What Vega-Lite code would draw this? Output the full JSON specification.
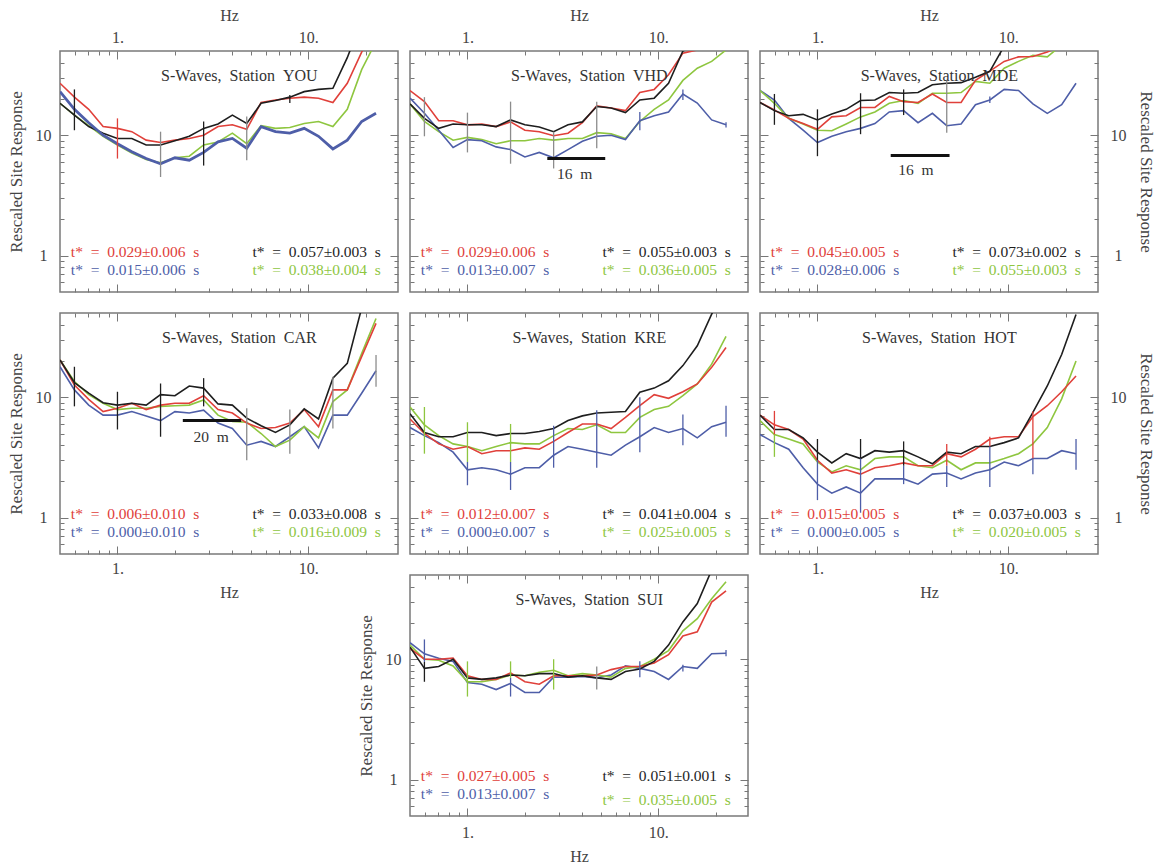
{
"$schema":"https://vega.github.io/schema/vega-lite/v6.json",
"padding":{"left":6,"top":6,"right":2,"bottom":2},
"columns":3,
"spacing":{"row":21,"column":12},
"bounds":"flush",
"config":{
 "view":{"stroke":"#7a7a7a","strokeWidth":1.5},
 "axis":{"domain":false,"grid":false,"tickColor":"#777","tickWidth":1,"tickSize":-4,"labelFont":"Liberation Serif","labelFontSize":16,"labelColor":"#444","titleFont":"Liberation Serif","titleFontSize":16,"titleFontWeight":"normal","titleColor":"#444","labelFlush":false,"labelOverlap":false},
 "axisY":{"titleFontSize":17},
 "text":{"font":"Liberation Serif"},
 "line":{"strokeWidth":1.6}
},
"concat":[
{"width":338,"height":241,"layer":[
 {"data":{"values":[
{"f":0.5,"s":"G","v":18.4},{"f":0.595,"s":"G","v":14.7},{"f":0.707,"s":"G","v":12},{"f":0.841,"s":"G","v":9.8},{"f":1,"s":"G","v":8.3},{"f":1.189,"s":"G","v":7.1},{"f":1.414,"s":"G","v":6.3},{"f":1.682,"s":"G","v":5.9},{"f":2,"s":"G","v":6.5},{"f":2.378,"s":"G","v":6.7},{"f":2.828,"s":"G","v":8.3},{"f":3.364,"s":"G","v":8.8},{"f":4,"s":"G","v":10.4},{"f":4.757,"s":"G","v":8.5},{"f":5.657,"s":"G","v":12},{"f":6.727,"s":"G","v":11.4},{"f":8,"s":"G","v":11.6},{"f":9.514,"s":"G","v":12.5},{"f":11.31,"s":"G","v":13},{"f":13.45,"s":"G","v":11.8},{"f":16,"s":"G","v":16.4},{"f":19.03,"s":"G","v":35},{"f":22.63,"s":"G","v":60},
{"f":0.5,"s":"R","v":27},{"f":0.595,"s":"R","v":20.7},{"f":0.707,"s":"R","v":16.4},{"f":0.841,"s":"R","v":11.8},{"f":1,"s":"R","v":11.4},{"f":1.189,"s":"R","v":10.7},{"f":1.414,"s":"R","v":9.1},{"f":1.682,"s":"R","v":8.7},{"f":2,"s":"R","v":9.1},{"f":2.378,"s":"R","v":9.4},{"f":2.828,"s":"R","v":10},{"f":3.364,"s":"R","v":11.8},{"f":4,"s":"R","v":12.2},{"f":4.757,"s":"R","v":11.2},{"f":5.657,"s":"R","v":18.7},{"f":6.727,"s":"R","v":19.6},{"f":8,"s":"R","v":20.3},{"f":9.514,"s":"R","v":20.7},{"f":11.31,"s":"R","v":20.3},{"f":13.45,"s":"R","v":18.7},{"f":16,"s":"R","v":27},{"f":19.03,"s":"R","v":49},{"f":22.63,"s":"R","v":80},
{"f":0.5,"s":"K","v":18.4},{"f":0.595,"s":"K","v":14.7},{"f":0.707,"s":"K","v":11.8},{"f":0.841,"s":"K","v":10.4},{"f":1,"s":"K","v":9.4},{"f":1.189,"s":"K","v":9.4},{"f":1.414,"s":"K","v":8.3},{"f":1.682,"s":"K","v":8.3},{"f":2,"s":"K","v":9.0},{"f":2.378,"s":"K","v":9.8},{"f":2.828,"s":"K","v":11.4},{"f":3.364,"s":"K","v":12.4},{"f":4,"s":"K","v":14.7},{"f":4.757,"s":"K","v":12.5},{"f":5.657,"s":"K","v":18.4},{"f":6.727,"s":"K","v":19.4},{"f":8,"s":"K","v":20.7},{"f":9.514,"s":"K","v":23},{"f":11.31,"s":"K","v":24},{"f":13.45,"s":"K","v":24.5},{"f":16,"s":"K","v":44},{"f":19.03,"s":"K","v":90}
 ]},
 "mark":{"type":"line","clip":true},
 "encoding":{
  "x":{"field":"f","type":"quantitative","scale":{"type":"log","domain":[0.5,29.5],"nice":false},"axis":{"orient":"bottom","values":[0.6,0.7,0.8,0.9,1,2,3,4,5,6,7,8,9,10,20],"tickSize":{"condition":{"test":"datum.value==1||datum.value==10","value":-8},"value":-4},"labels":false,"title":null}},
  "y":{"field":"v","type":"quantitative","scale":{"type":"log","domain":[0.5,50],"nice":false},"axis":{"orient":"left","values":[0.6,0.7,0.8,0.9,1,2,3,4,5,6,7,8,9,10,20,30,40],"tickSize":{"condition":{"test":"datum.value==1||datum.value==10","value":-8},"value":-4},"labelExpr":"datum.value==1?'1':datum.value==10?'10':''","labelAlign":"center","labelBaseline":"middle","labelPadding":25,"title":"Rescaled\u00a0Site\u00a0Response","titlePadding":10}},
  "color":{"field":"s","type":"nominal","scale":{"domain":["R","B","K","G","N"],"range":["#e0403a","#4e5ea8","#1e1e1e","#8ec63f","#8c8c8c"]},"legend":null}
 }},
 {"data":{"values":[
{"f":0.5,"s":"B","v":23},{"f":0.595,"s":"B","v":16.4},{"f":0.707,"s":"B","v":12.7},{"f":0.841,"s":"B","v":10},{"f":1,"s":"B","v":8.5},{"f":1.189,"s":"B","v":7.3},{"f":1.414,"s":"B","v":6.4},{"f":1.682,"s":"B","v":5.8},{"f":2,"s":"B","v":6.5},{"f":2.378,"s":"B","v":6.2},{"f":2.828,"s":"B","v":7.2},{"f":3.364,"s":"B","v":8.8},{"f":4,"s":"B","v":9.4},{"f":4.757,"s":"B","v":7.8},{"f":5.657,"s":"B","v":11.8},{"f":6.727,"s":"B","v":10.7},{"f":8,"s":"B","v":10.4},{"f":9.514,"s":"B","v":11.4},{"f":11.31,"s":"B","v":9.8},{"f":13.45,"s":"B","v":7.7},{"f":16,"s":"B","v":9.1},{"f":19.03,"s":"B","v":13},{"f":22.63,"s":"B","v":15.2}
 ]},
 "mark":{"type":"line","clip":true,"strokeWidth":2.8},
 "encoding":{
  "x":{"field":"f","type":"quantitative","axis":null},
  "y":{"field":"v","type":"quantitative","axis":null},
  "color":{"field":"s","type":"nominal","legend":null}
 }},
 {"data":{"values":[{"f":0.595,"lo":11,"hi":24,"s":"K"},{"f":1,"lo":6.4,"hi":13.8,"s":"R"},{"f":1.682,"lo":4.5,"hi":10.7,"s":"N"},{"f":2.828,"lo":5.6,"hi":13,"s":"K"},{"f":4.757,"lo":6.2,"hi":14.3,"s":"N"},{"f":8,"lo":18.5,"hi":21.6,"s":"K"}]},
 "mark":{"type":"rule","clip":true,"strokeWidth":1.3},
 "encoding":{
  "x":{"field":"f","type":"quantitative","axis":{"orient":"top","values":[0.6,0.7,0.8,0.9,1,2,3,4,5,6,7,8,9,10,20],"tickSize":{"condition":{"test":"datum.value==1||datum.value==10","value":-8},"value":-4},"labelExpr":"datum.value==1?'1.':datum.value==10?'10.':''","labelBaseline":"middle","labelPadding":22,"title":"Hz","titlePadding":2}},
  "y":{"field":"lo","type":"quantitative","axis":{"orient":"right","values":[0.6,0.7,0.8,0.9,1,2,3,4,5,6,7,8,9,10,20,30,40],"tickSize":{"condition":{"test":"datum.value==1||datum.value==10","value":-8},"value":-4},"labels":false,"title":null}},
  "y2":{"field":"hi"},
  "color":{"field":"s","type":"nominal","legend":null}
 }},
 {"data":{"values":[{"t":"S-Waves,\u00a0\u00a0Station\u00a0\u00a0YOU"}]},"mark":{"type":"text","fontSize":16,"color":"#333"},"encoding":{"x":{"datum":4.35,"type":"quantitative","axis":null},"y":{"datum":31,"type":"quantitative","axis":null},"text":{"field":"t"}}},
 {"data":{"values":[{"t":"t*\u00a0\u00a0=\u00a0\u00a00.029±0.006\u00a0\u00a0s"}]},"mark":{"type":"text","fontSize":15.5,"align":"left","color":"#e0403a"},"encoding":{"x":{"datum":0.57,"type":"quantitative","axis":null},"y":{"datum":1.07,"type":"quantitative","axis":null},"text":{"field":"t"}}},
 {"data":{"values":[{"t":"t*\u00a0\u00a0=\u00a0\u00a00.015±0.006\u00a0\u00a0s"}]},"mark":{"type":"text","fontSize":15.5,"align":"left","color":"#4e5ea8"},"encoding":{"x":{"datum":0.57,"type":"quantitative","axis":null},"y":{"datum":0.765,"type":"quantitative","axis":null},"text":{"field":"t"}}},
 {"data":{"values":[{"t":"t*\u00a0\u00a0=\u00a0\u00a00.057±0.003\u00a0\u00a0s"}]},"mark":{"type":"text","fontSize":15.5,"align":"right","color":"#1e1e1e"},"encoding":{"x":{"datum":24,"type":"quantitative","axis":null},"y":{"datum":1.07,"type":"quantitative","axis":null},"text":{"field":"t"}}},
 {"data":{"values":[{"t":"t*\u00a0\u00a0=\u00a0\u00a00.038±0.004\u00a0\u00a0s"}]},"mark":{"type":"text","fontSize":15.5,"align":"right","color":"#8ec63f"},"encoding":{"x":{"datum":24,"type":"quantitative","axis":null},"y":{"datum":0.765,"type":"quantitative","axis":null},"text":{"field":"t"}}}
]},
{"width":338,"height":241,"layer":[
 {"data":{"values":[
{"f":0.5,"s":"G","v":18.2},{"f":0.595,"s":"G","v":13},{"f":0.707,"s":"G","v":10.7},{"f":0.841,"s":"G","v":9.1},{"f":1,"s":"G","v":9.6},{"f":1.189,"s":"G","v":9.2},{"f":1.414,"s":"G","v":8.5},{"f":1.682,"s":"G","v":9.0},{"f":2,"s":"G","v":9.0},{"f":2.378,"s":"G","v":9.4},{"f":2.828,"s":"G","v":9.1},{"f":3.364,"s":"G","v":9.4},{"f":4,"s":"G","v":9.4},{"f":4.757,"s":"G","v":10.5},{"f":5.657,"s":"G","v":10.3},{"f":6.727,"s":"G","v":9.4},{"f":8,"s":"G","v":13},{"f":9.514,"s":"G","v":16.4},{"f":11.31,"s":"G","v":19.6},{"f":13.45,"s":"G","v":28.5},{"f":16,"s":"G","v":36},{"f":19.03,"s":"G","v":41},{"f":22.63,"s":"G","v":51},
{"f":0.5,"s":"B","v":20.3},{"f":0.595,"s":"B","v":15.2},{"f":0.707,"s":"B","v":11},{"f":0.841,"s":"B","v":7.9},{"f":1,"s":"B","v":9.2},{"f":1.189,"s":"B","v":9.0},{"f":1.414,"s":"B","v":8.0},{"f":1.682,"s":"B","v":7.6},{"f":2,"s":"B","v":6.6},{"f":2.378,"s":"B","v":7.2},{"f":2.828,"s":"B","v":6.5},{"f":3.364,"s":"B","v":7.6},{"f":4,"s":"B","v":8.9},{"f":4.757,"s":"B","v":9.8},{"f":5.657,"s":"B","v":10},{"f":6.727,"s":"B","v":9.2},{"f":8,"s":"B","v":13.2},{"f":9.514,"s":"B","v":14.5},{"f":11.31,"s":"B","v":15.6},{"f":13.45,"s":"B","v":22},{"f":16,"s":"B","v":18.5},{"f":19.03,"s":"B","v":13.4},{"f":22.63,"s":"B","v":12.2},
{"f":0.5,"s":"R","v":23.5},{"f":0.595,"s":"R","v":19},{"f":0.707,"s":"R","v":13.2},{"f":0.841,"s":"R","v":13.2},{"f":1,"s":"R","v":12.2},{"f":1.189,"s":"R","v":12.4},{"f":1.414,"s":"R","v":11.8},{"f":1.682,"s":"R","v":12.9},{"f":2,"s":"R","v":11},{"f":2.378,"s":"R","v":10.7},{"f":2.828,"s":"R","v":9.9},{"f":3.364,"s":"R","v":10.4},{"f":4,"s":"R","v":12.7},{"f":4.757,"s":"R","v":17.5},{"f":5.657,"s":"R","v":16.8},{"f":6.727,"s":"R","v":16},{"f":8,"s":"R","v":22.6},{"f":9.514,"s":"R","v":24},{"f":11.31,"s":"R","v":31.8},{"f":13.45,"s":"R","v":48},{"f":16,"s":"R","v":51},{"f":19.03,"s":"R","v":56},
{"f":0.5,"s":"K","v":18.2},{"f":0.595,"s":"K","v":13.8},{"f":0.707,"s":"K","v":11.4},{"f":0.841,"s":"K","v":12.4},{"f":1,"s":"K","v":12.2},{"f":1.189,"s":"K","v":12.2},{"f":1.414,"s":"K","v":11.8},{"f":1.682,"s":"K","v":13.4},{"f":2,"s":"K","v":12.2},{"f":2.378,"s":"K","v":11.7},{"f":2.828,"s":"K","v":10.7},{"f":3.364,"s":"K","v":12.2},{"f":4,"s":"K","v":12.9},{"f":4.757,"s":"K","v":17.3},{"f":5.657,"s":"K","v":16.8},{"f":6.727,"s":"K","v":15.4},{"f":8,"s":"K","v":19.6},{"f":9.514,"s":"K","v":20.3},{"f":11.31,"s":"K","v":27},{"f":13.45,"s":"K","v":50},{"f":16,"s":"K","v":56}
 ]},
 "mark":{"type":"line","clip":true},
 "encoding":{
  "x":{"field":"f","type":"quantitative","scale":{"type":"log","domain":[0.5,29.5],"nice":false},"axis":{"orient":"bottom","values":[0.6,0.7,0.8,0.9,1,2,3,4,5,6,7,8,9,10,20],"tickSize":{"condition":{"test":"datum.value==1||datum.value==10","value":-8},"value":-4},"labels":false,"title":null}},
  "y":{"field":"v","type":"quantitative","scale":{"type":"log","domain":[0.5,50],"nice":false},"axis":{"orient":"left","values":[0.6,0.7,0.8,0.9,1,2,3,4,5,6,7,8,9,10,20,30,40],"tickSize":{"condition":{"test":"datum.value==1||datum.value==10","value":-8},"value":-4},"labels":false,"title":null}},
  "color":{"field":"s","type":"nominal","scale":{"domain":["R","B","K","G","N"],"range":["#e0403a","#4e5ea8","#1e1e1e","#8ec63f","#8c8c8c"]},"legend":null}
 }},
 {"data":{"values":[{"f":0.595,"lo":9.8,"hi":20.7,"s":"N"},{"f":1,"lo":7.2,"hi":15.4,"s":"N"},{"f":1.682,"lo":5.8,"hi":19,"s":"N"},{"f":2.828,"lo":5.3,"hi":10.7,"s":"N"},{"f":4.757,"lo":7.8,"hi":19,"s":"N"},{"f":8,"lo":11,"hi":15.6,"s":"B"},{"f":13.45,"lo":19.6,"hi":24,"s":"B"},{"f":22.63,"lo":11.6,"hi":12.8,"s":"B"}]},
 "mark":{"type":"rule","clip":true,"strokeWidth":1.3},
 "encoding":{
  "x":{"field":"f","type":"quantitative","axis":{"orient":"top","values":[0.6,0.7,0.8,0.9,1,2,3,4,5,6,7,8,9,10,20],"tickSize":{"condition":{"test":"datum.value==1||datum.value==10","value":-8},"value":-4},"labelExpr":"datum.value==1?'1.':datum.value==10?'10.':''","labelBaseline":"middle","labelPadding":22,"title":"Hz","titlePadding":2}},
  "y":{"field":"lo","type":"quantitative","axis":{"orient":"right","values":[0.6,0.7,0.8,0.9,1,2,3,4,5,6,7,8,9,10,20,30,40],"tickSize":{"condition":{"test":"datum.value==1||datum.value==10","value":-8},"value":-4},"labels":false,"title":null}},
  "y2":{"field":"hi"},
  "color":{"field":"s","type":"nominal","legend":null}
 }},
 {"data":{"values":[{"t":"S-Waves,\u00a0\u00a0Station\u00a0\u00a0VHD"}]},"mark":{"type":"text","fontSize":16,"color":"#333"},"encoding":{"x":{"datum":4.35,"type":"quantitative","axis":null},"y":{"datum":31,"type":"quantitative","axis":null},"text":{"field":"t"}}},
 {"data":{"values":[{"t":"16 m"}]},"mark":{"type":"rule","strokeWidth":3,"color":"#111"},"encoding":{"x":{"datum":2.62,"type":"quantitative","axis":null},"x2":{"datum":5.27},"y":{"datum":6.4,"type":"quantitative","axis":null}}},
 {"data":{"values":[{"t":"16\u00a0\u00a0m"}]},"mark":{"type":"text","fontSize":15.5,"color":"#333"},"encoding":{"x":{"datum":3.64,"type":"quantitative","axis":null},"y":{"datum":4.75,"type":"quantitative","axis":null},"text":{"field":"t"}}},
 {"data":{"values":[{"t":"t*\u00a0\u00a0=\u00a0\u00a00.029±0.006\u00a0\u00a0s"}]},"mark":{"type":"text","fontSize":15.5,"align":"left","color":"#e0403a"},"encoding":{"x":{"datum":0.57,"type":"quantitative","axis":null},"y":{"datum":1.07,"type":"quantitative","axis":null},"text":{"field":"t"}}},
 {"data":{"values":[{"t":"t*\u00a0\u00a0=\u00a0\u00a00.013±0.007\u00a0\u00a0s"}]},"mark":{"type":"text","fontSize":15.5,"align":"left","color":"#4e5ea8"},"encoding":{"x":{"datum":0.57,"type":"quantitative","axis":null},"y":{"datum":0.765,"type":"quantitative","axis":null},"text":{"field":"t"}}},
 {"data":{"values":[{"t":"t*\u00a0\u00a0=\u00a0\u00a00.055±0.003\u00a0\u00a0s"}]},"mark":{"type":"text","fontSize":15.5,"align":"right","color":"#1e1e1e"},"encoding":{"x":{"datum":24,"type":"quantitative","axis":null},"y":{"datum":1.07,"type":"quantitative","axis":null},"text":{"field":"t"}}},
 {"data":{"values":[{"t":"t*\u00a0\u00a0=\u00a0\u00a00.036±0.005\u00a0\u00a0s"}]},"mark":{"type":"text","fontSize":15.5,"align":"right","color":"#8ec63f"},"encoding":{"x":{"datum":24,"type":"quantitative","axis":null},"y":{"datum":0.765,"type":"quantitative","axis":null},"text":{"field":"t"}}}
]},
{"width":338,"height":241,"layer":[
 {"data":{"values":[
{"f":0.5,"s":"B","v":23.5},{"f":0.595,"s":"B","v":19.6},{"f":0.707,"s":"B","v":13.8},{"f":0.841,"s":"B","v":11},{"f":1,"s":"B","v":8.7},{"f":1.189,"s":"B","v":9.8},{"f":1.414,"s":"B","v":10.7},{"f":1.682,"s":"B","v":11.4},{"f":2,"s":"B","v":12.5},{"f":2.378,"s":"B","v":15.6},{"f":2.828,"s":"B","v":16},{"f":3.364,"s":"B","v":12.7},{"f":4,"s":"B","v":15.2},{"f":4.757,"s":"B","v":12},{"f":5.657,"s":"B","v":12.4},{"f":6.727,"s":"B","v":17.9},{"f":8,"s":"B","v":19.6},{"f":9.514,"s":"B","v":24},{"f":11.31,"s":"B","v":23.5},{"f":13.45,"s":"B","v":18.2},{"f":16,"s":"B","v":15.2},{"f":19.03,"s":"B","v":17.9},{"f":22.63,"s":"B","v":27},
{"f":0.5,"s":"G","v":23.5},{"f":0.595,"s":"G","v":18.4},{"f":0.707,"s":"G","v":13.8},{"f":0.841,"s":"G","v":12.4},{"f":1,"s":"G","v":11},{"f":1.189,"s":"G","v":10.9},{"f":1.414,"s":"G","v":12.4},{"f":1.682,"s":"G","v":14.2},{"f":2,"s":"G","v":15.6},{"f":2.378,"s":"G","v":18.4},{"f":2.828,"s":"G","v":19.4},{"f":3.364,"s":"G","v":18.4},{"f":4,"s":"G","v":22.3},{"f":4.757,"s":"G","v":22.3},{"f":5.657,"s":"G","v":22.6},{"f":6.727,"s":"G","v":28},{"f":8,"s":"G","v":27},{"f":9.514,"s":"G","v":36},{"f":11.31,"s":"G","v":41},{"f":13.45,"s":"G","v":46},{"f":16,"s":"G","v":44.7},{"f":19.03,"s":"G","v":56},
{"f":0.5,"s":"R","v":18.7},{"f":0.595,"s":"R","v":16.2},{"f":0.707,"s":"R","v":13.8},{"f":0.841,"s":"R","v":12.5},{"f":1,"s":"R","v":11.2},{"f":1.189,"s":"R","v":14.2},{"f":1.414,"s":"R","v":14.5},{"f":1.682,"s":"R","v":17},{"f":2,"s":"R","v":17},{"f":2.378,"s":"R","v":21},{"f":2.828,"s":"R","v":19},{"f":3.364,"s":"R","v":18.7},{"f":4,"s":"R","v":22},{"f":4.757,"s":"R","v":18.7},{"f":5.657,"s":"R","v":18.7},{"f":6.727,"s":"R","v":28.5},{"f":8,"s":"R","v":34},{"f":9.514,"s":"R","v":41},{"f":11.31,"s":"R","v":44.7},{"f":13.45,"s":"R","v":45},{"f":16,"s":"R","v":49},{"f":19.03,"s":"R","v":56},
{"f":0.5,"s":"K","v":18.7},{"f":0.595,"s":"K","v":16},{"f":0.707,"s":"K","v":14.5},{"f":0.841,"s":"K","v":14.9},{"f":1,"s":"K","v":13.4},{"f":1.189,"s":"K","v":15},{"f":1.414,"s":"K","v":16.4},{"f":1.682,"s":"K","v":19.4},{"f":2,"s":"K","v":19.6},{"f":2.378,"s":"K","v":22.6},{"f":2.828,"s":"K","v":22.3},{"f":3.364,"s":"K","v":22.6},{"f":4,"s":"K","v":26.2},{"f":4.757,"s":"K","v":27},{"f":5.657,"s":"K","v":27.3},{"f":6.727,"s":"K","v":30.3},{"f":8,"s":"K","v":33.9},{"f":9.514,"s":"K","v":55}
 ]},
 "mark":{"type":"line","clip":true},
 "encoding":{
  "x":{"field":"f","type":"quantitative","scale":{"type":"log","domain":[0.5,29.5],"nice":false},"axis":{"orient":"bottom","values":[0.6,0.7,0.8,0.9,1,2,3,4,5,6,7,8,9,10,20],"tickSize":{"condition":{"test":"datum.value==1||datum.value==10","value":-8},"value":-4},"labels":false,"title":null}},
  "y":{"field":"v","type":"quantitative","scale":{"type":"log","domain":[0.5,50],"nice":false},"axis":{"orient":"left","values":[0.6,0.7,0.8,0.9,1,2,3,4,5,6,7,8,9,10,20,30,40],"tickSize":{"condition":{"test":"datum.value==1||datum.value==10","value":-8},"value":-4},"labels":false,"title":null}},
  "color":{"field":"s","type":"nominal","scale":{"domain":["R","B","K","G","N"],"range":["#e0403a","#4e5ea8","#1e1e1e","#8ec63f","#8c8c8c"]},"legend":null}
 }},
 {"data":{"values":[{"f":0.595,"lo":12.2,"hi":22,"s":"K"},{"f":1,"lo":6.7,"hi":16.4,"s":"K"},{"f":1.682,"lo":10.2,"hi":22.3,"s":"K"},{"f":2.828,"lo":14.7,"hi":24,"s":"K"},{"f":4.757,"lo":10.5,"hi":28.5,"s":"N"},{"f":8,"lo":18.5,"hi":21,"s":"B"}]},
 "mark":{"type":"rule","clip":true,"strokeWidth":1.3},
 "encoding":{
  "x":{"field":"f","type":"quantitative","axis":{"orient":"top","values":[0.6,0.7,0.8,0.9,1,2,3,4,5,6,7,8,9,10,20],"tickSize":{"condition":{"test":"datum.value==1||datum.value==10","value":-8},"value":-4},"labelExpr":"datum.value==1?'1.':datum.value==10?'10.':''","labelBaseline":"middle","labelPadding":22,"title":"Hz","titlePadding":2}},
  "y":{"field":"lo","type":"quantitative","axis":{"orient":"right","values":[0.6,0.7,0.8,0.9,1,2,3,4,5,6,7,8,9,10,20,30,40],"tickSize":{"condition":{"test":"datum.value==1||datum.value==10","value":-8},"value":-4},"labelExpr":"datum.value==1?'1':datum.value==10?'10':''","labelAlign":"center","labelBaseline":"middle","labelPadding":28,"title":"Rescaled\u00a0Site\u00a0Response","titlePadding":10}},
  "y2":{"field":"hi"},
  "color":{"field":"s","type":"nominal","legend":null}
 }},
 {"data":{"values":[{"t":"S-Waves,\u00a0\u00a0Station\u00a0\u00a0MDE"}]},"mark":{"type":"text","fontSize":16,"color":"#333"},"encoding":{"x":{"datum":4.35,"type":"quantitative","axis":null},"y":{"datum":31,"type":"quantitative","axis":null},"text":{"field":"t"}}},
 {"data":{"values":[{"t":"16 m"}]},"mark":{"type":"rule","strokeWidth":3,"color":"#111"},"encoding":{"x":{"datum":2.42,"type":"quantitative","axis":null},"x2":{"datum":4.92},"y":{"datum":6.8,"type":"quantitative","axis":null}}},
 {"data":{"values":[{"t":"16\u00a0\u00a0m"}]},"mark":{"type":"text","fontSize":15.5,"color":"#333"},"encoding":{"x":{"datum":3.28,"type":"quantitative","axis":null},"y":{"datum":5.1,"type":"quantitative","axis":null},"text":{"field":"t"}}},
 {"data":{"values":[{"t":"t*\u00a0\u00a0=\u00a0\u00a00.045±0.005\u00a0\u00a0s"}]},"mark":{"type":"text","fontSize":15.5,"align":"left","color":"#e0403a"},"encoding":{"x":{"datum":0.57,"type":"quantitative","axis":null},"y":{"datum":1.07,"type":"quantitative","axis":null},"text":{"field":"t"}}},
 {"data":{"values":[{"t":"t*\u00a0\u00a0=\u00a0\u00a00.028±0.006\u00a0\u00a0s"}]},"mark":{"type":"text","fontSize":15.5,"align":"left","color":"#4e5ea8"},"encoding":{"x":{"datum":0.57,"type":"quantitative","axis":null},"y":{"datum":0.765,"type":"quantitative","axis":null},"text":{"field":"t"}}},
 {"data":{"values":[{"t":"t*\u00a0\u00a0=\u00a0\u00a00.073±0.002\u00a0\u00a0s"}]},"mark":{"type":"text","fontSize":15.5,"align":"right","color":"#1e1e1e"},"encoding":{"x":{"datum":24,"type":"quantitative","axis":null},"y":{"datum":1.07,"type":"quantitative","axis":null},"text":{"field":"t"}}},
 {"data":{"values":[{"t":"t*\u00a0\u00a0=\u00a0\u00a00.055±0.003\u00a0\u00a0s"}]},"mark":{"type":"text","fontSize":15.5,"align":"right","color":"#8ec63f"},"encoding":{"x":{"datum":24,"type":"quantitative","axis":null},"y":{"datum":0.765,"type":"quantitative","axis":null},"text":{"field":"t"}}}
]},
{"width":338,"height":241,"layer":[
 {"data":{"values":[
{"f":0.5,"s":"B","v":17.9},{"f":0.595,"s":"B","v":11.5},{"f":0.707,"s":"B","v":8.6},{"f":0.841,"s":"B","v":7.1},{"f":1,"s":"B","v":7.1},{"f":1.189,"s":"B","v":7.6},{"f":1.414,"s":"B","v":7.0},{"f":1.682,"s":"B","v":6.4},{"f":2,"s":"B","v":7.6},{"f":2.378,"s":"B","v":7.4},{"f":2.828,"s":"B","v":7.8},{"f":3.364,"s":"B","v":6.1},{"f":4,"s":"B","v":5.5},{"f":4.757,"s":"B","v":4.0},{"f":5.657,"s":"B","v":4.3},{"f":6.727,"s":"B","v":3.9},{"f":8,"s":"B","v":4.7},{"f":9.514,"s":"B","v":5.7},{"f":11.31,"s":"B","v":3.8},{"f":13.45,"s":"B","v":7.1},{"f":16,"s":"B","v":7.1},{"f":19.03,"s":"B","v":10.8},{"f":22.63,"s":"B","v":16.6},
{"f":0.5,"s":"G","v":20.4},{"f":0.595,"s":"G","v":13.5},{"f":0.707,"s":"G","v":10.5},{"f":0.841,"s":"G","v":8.9},{"f":1,"s":"G","v":7.9},{"f":1.189,"s":"G","v":8.1},{"f":1.414,"s":"G","v":8.1},{"f":1.682,"s":"G","v":8.4},{"f":2,"s":"G","v":8.5},{"f":2.378,"s":"G","v":8.6},{"f":2.828,"s":"G","v":9.5},{"f":3.364,"s":"G","v":7.1},{"f":4,"s":"G","v":6.3},{"f":4.757,"s":"G","v":6.2},{"f":5.657,"s":"G","v":5.0},{"f":6.727,"s":"G","v":3.9},{"f":8,"s":"G","v":4.4},{"f":9.514,"s":"G","v":5.7},{"f":11.31,"s":"G","v":4.6},{"f":13.45,"s":"G","v":9.2},{"f":16,"s":"G","v":11.5},{"f":19.03,"s":"G","v":23},{"f":22.63,"s":"G","v":45},
{"f":0.5,"s":"R","v":20.4},{"f":0.595,"s":"R","v":12.6},{"f":0.707,"s":"R","v":9.6},{"f":0.841,"s":"R","v":7.6},{"f":1,"s":"R","v":8.1},{"f":1.189,"s":"R","v":8.9},{"f":1.414,"s":"R","v":7.9},{"f":1.682,"s":"R","v":8.6},{"f":2,"s":"R","v":8.9},{"f":2.378,"s":"R","v":8.9},{"f":2.828,"s":"R","v":10.3},{"f":3.364,"s":"R","v":7.9},{"f":4,"s":"R","v":7.4},{"f":4.757,"s":"R","v":6.1},{"f":5.657,"s":"R","v":5.5},{"f":6.727,"s":"R","v":5.6},{"f":8,"s":"R","v":6.1},{"f":9.514,"s":"R","v":7.9},{"f":11.31,"s":"R","v":5.7},{"f":13.45,"s":"R","v":11.5},{"f":16,"s":"R","v":11.5},{"f":19.03,"s":"R","v":21.7},{"f":22.63,"s":"R","v":41},
{"f":0.5,"s":"K","v":20.4},{"f":0.595,"s":"K","v":13.2},{"f":0.707,"s":"K","v":10.8},{"f":0.841,"s":"K","v":9.0},{"f":1,"s":"K","v":8.6},{"f":1.189,"s":"K","v":8.9},{"f":1.414,"s":"K","v":8.6},{"f":1.682,"s":"K","v":10.5},{"f":2,"s":"K","v":10.3},{"f":2.378,"s":"K","v":12.4},{"f":2.828,"s":"K","v":11.9},{"f":3.364,"s":"K","v":8.8},{"f":4,"s":"K","v":8.6},{"f":4.757,"s":"K","v":6.7},{"f":5.657,"s":"K","v":5.8},{"f":6.727,"s":"K","v":5.1},{"f":8,"s":"K","v":5.9},{"f":9.514,"s":"K","v":8.0},{"f":11.31,"s":"K","v":6.6},{"f":13.45,"s":"K","v":14.4},{"f":16,"s":"K","v":19.1},{"f":19.03,"s":"K","v":55}
 ]},
 "mark":{"type":"line","clip":true},
 "encoding":{
  "x":{"field":"f","type":"quantitative","scale":{"type":"log","domain":[0.5,29.5],"nice":false},"axis":{"orient":"bottom","values":[0.6,0.7,0.8,0.9,1,2,3,4,5,6,7,8,9,10,20],"tickSize":{"condition":{"test":"datum.value==1||datum.value==10","value":-8},"value":-4},"labelExpr":"datum.value==1?'1.':datum.value==10?'10.':''","labelBaseline":"middle","labelPadding":22,"title":"Hz","titlePadding":4}},
  "y":{"field":"v","type":"quantitative","scale":{"type":"log","domain":[0.5,50],"nice":false},"axis":{"orient":"left","values":[0.6,0.7,0.8,0.9,1,2,3,4,5,6,7,8,9,10,20,30,40],"tickSize":{"condition":{"test":"datum.value==1||datum.value==10","value":-8},"value":-4},"labelExpr":"datum.value==1?'1':datum.value==10?'10':''","labelAlign":"center","labelBaseline":"middle","labelPadding":25,"title":"Rescaled\u00a0Site\u00a0Response","titlePadding":10}},
  "color":{"field":"s","type":"nominal","scale":{"domain":["R","B","K","G","N"],"range":["#e0403a","#4e5ea8","#1e1e1e","#8ec63f","#8c8c8c"]},"legend":null}
 }},
 {"data":{"values":[{"f":0.595,"lo":8.4,"hi":17.9,"s":"K"},{"f":1,"lo":5.4,"hi":11.1,"s":"K"},{"f":1.682,"lo":4.7,"hi":13,"s":"K"},{"f":2.828,"lo":8.4,"hi":14.4,"s":"K"},{"f":4.757,"lo":3.0,"hi":8.1,"s":"N"},{"f":8,"lo":3.4,"hi":7.9,"s":"N"},{"f":13.45,"lo":5.5,"hi":14.8,"s":"N"},{"f":22.63,"lo":12.2,"hi":22.4,"s":"N"}]},
 "mark":{"type":"rule","clip":true,"strokeWidth":1.3},
 "encoding":{
  "x":{"field":"f","type":"quantitative","axis":{"orient":"top","values":[0.6,0.7,0.8,0.9,1,2,3,4,5,6,7,8,9,10,20],"tickSize":{"condition":{"test":"datum.value==1||datum.value==10","value":-8},"value":-4},"labels":false,"title":null}},
  "y":{"field":"lo","type":"quantitative","axis":{"orient":"right","values":[0.6,0.7,0.8,0.9,1,2,3,4,5,6,7,8,9,10,20,30,40],"tickSize":{"condition":{"test":"datum.value==1||datum.value==10","value":-8},"value":-4},"labels":false,"title":null}},
  "y2":{"field":"hi"},
  "color":{"field":"s","type":"nominal","legend":null}
 }},
 {"data":{"values":[{"t":"S-Waves,\u00a0\u00a0Station\u00a0\u00a0CAR"}]},"mark":{"type":"text","fontSize":16,"color":"#333"},"encoding":{"x":{"datum":4.35,"type":"quantitative","axis":null},"y":{"datum":31,"type":"quantitative","axis":null},"text":{"field":"t"}}},
 {"data":{"values":[{"t":"20 m"}]},"mark":{"type":"rule","strokeWidth":3,"color":"#111"},"encoding":{"x":{"datum":2.2,"type":"quantitative","axis":null},"x2":{"datum":4.45},"y":{"datum":6.4,"type":"quantitative","axis":null}}},
 {"data":{"values":[{"t":"20\u00a0\u00a0m"}]},"mark":{"type":"text","fontSize":15.5,"color":"#333"},"encoding":{"x":{"datum":3.1,"type":"quantitative","axis":null},"y":{"datum":4.7,"type":"quantitative","axis":null},"text":{"field":"t"}}},
 {"data":{"values":[{"t":"t*\u00a0\u00a0=\u00a0\u00a00.006±0.010\u00a0\u00a0s"}]},"mark":{"type":"text","fontSize":15.5,"align":"left","color":"#e0403a"},"encoding":{"x":{"datum":0.57,"type":"quantitative","axis":null},"y":{"datum":1.07,"type":"quantitative","axis":null},"text":{"field":"t"}}},
 {"data":{"values":[{"t":"t*\u00a0\u00a0=\u00a0\u00a00.000±0.010\u00a0\u00a0s"}]},"mark":{"type":"text","fontSize":15.5,"align":"left","color":"#4e5ea8"},"encoding":{"x":{"datum":0.57,"type":"quantitative","axis":null},"y":{"datum":0.765,"type":"quantitative","axis":null},"text":{"field":"t"}}},
 {"data":{"values":[{"t":"t*\u00a0\u00a0=\u00a0\u00a00.033±0.008\u00a0\u00a0s"}]},"mark":{"type":"text","fontSize":15.5,"align":"right","color":"#1e1e1e"},"encoding":{"x":{"datum":24,"type":"quantitative","axis":null},"y":{"datum":1.07,"type":"quantitative","axis":null},"text":{"field":"t"}}},
 {"data":{"values":[{"t":"t*\u00a0\u00a0=\u00a0\u00a00.016±0.009\u00a0\u00a0s"}]},"mark":{"type":"text","fontSize":15.5,"align":"right","color":"#8ec63f"},"encoding":{"x":{"datum":24,"type":"quantitative","axis":null},"y":{"datum":0.765,"type":"quantitative","axis":null},"text":{"field":"t"}}}
]},
{"width":338,"height":241,"layer":[
 {"data":{"values":[
{"f":0.5,"s":"B","v":5.6},{"f":0.595,"s":"B","v":4.8},{"f":0.707,"s":"B","v":4.2},{"f":0.841,"s":"B","v":3.5},{"f":1,"s":"B","v":2.5},{"f":1.189,"s":"B","v":2.6},{"f":1.414,"s":"B","v":2.5},{"f":1.682,"s":"B","v":2.3},{"f":2,"s":"B","v":2.6},{"f":2.378,"s":"B","v":2.6},{"f":2.828,"s":"B","v":3.3},{"f":3.364,"s":"B","v":3.9},{"f":4,"s":"B","v":3.7},{"f":4.757,"s":"B","v":3.5},{"f":5.657,"s":"B","v":3.3},{"f":6.727,"s":"B","v":4.0},{"f":8,"s":"B","v":4.7},{"f":9.514,"s":"B","v":5.6},{"f":11.31,"s":"B","v":5.1},{"f":13.45,"s":"B","v":5.5},{"f":16,"s":"B","v":4.6},{"f":19.03,"s":"B","v":5.7},{"f":22.63,"s":"B","v":6.2},
{"f":0.5,"s":"G","v":8.3},{"f":0.595,"s":"G","v":5.9},{"f":0.707,"s":"G","v":4.8},{"f":0.841,"s":"G","v":4.1},{"f":1,"s":"G","v":3.9},{"f":1.189,"s":"G","v":3.6},{"f":1.414,"s":"G","v":3.9},{"f":1.682,"s":"G","v":4.2},{"f":2,"s":"G","v":4.1},{"f":2.378,"s":"G","v":4.1},{"f":2.828,"s":"G","v":4.8},{"f":3.364,"s":"G","v":5.5},{"f":4,"s":"G","v":5.4},{"f":4.757,"s":"G","v":5.9},{"f":5.657,"s":"G","v":5.1},{"f":6.727,"s":"G","v":5.1},{"f":8,"s":"G","v":6.8},{"f":9.514,"s":"G","v":7.9},{"f":11.31,"s":"G","v":8.4},{"f":13.45,"s":"G","v":10.3},{"f":16,"s":"G","v":12.9},{"f":19.03,"s":"G","v":18.8},{"f":22.63,"s":"G","v":32},
{"f":0.5,"s":"R","v":6.6},{"f":0.595,"s":"R","v":5.0},{"f":0.707,"s":"R","v":4.1},{"f":0.841,"s":"R","v":3.7},{"f":1,"s":"R","v":3.9},{"f":1.189,"s":"R","v":3.4},{"f":1.414,"s":"R","v":3.6},{"f":1.682,"s":"R","v":3.6},{"f":2,"s":"R","v":3.8},{"f":2.378,"s":"R","v":3.7},{"f":2.828,"s":"R","v":4.3},{"f":3.364,"s":"R","v":5.1},{"f":4,"s":"R","v":6.0},{"f":4.757,"s":"R","v":6.0},{"f":5.657,"s":"R","v":5.5},{"f":6.727,"s":"R","v":6.8},{"f":8,"s":"R","v":8.5},{"f":9.514,"s":"R","v":10.5},{"f":11.31,"s":"R","v":9.8},{"f":13.45,"s":"R","v":11.1},{"f":16,"s":"R","v":12.9},{"f":19.03,"s":"R","v":17.7},{"f":22.63,"s":"R","v":25.9},
{"f":0.5,"s":"K","v":7.3},{"f":0.595,"s":"K","v":5.1},{"f":0.707,"s":"K","v":4.7},{"f":0.841,"s":"K","v":4.7},{"f":1,"s":"K","v":5.1},{"f":1.189,"s":"K","v":5.1},{"f":1.414,"s":"K","v":4.8},{"f":1.682,"s":"K","v":5.0},{"f":2,"s":"K","v":5.0},{"f":2.378,"s":"K","v":5.2},{"f":2.828,"s":"K","v":5.5},{"f":3.364,"s":"K","v":6.4},{"f":4,"s":"K","v":7.0},{"f":4.757,"s":"K","v":7.4},{"f":5.657,"s":"K","v":7.5},{"f":6.727,"s":"K","v":7.6},{"f":8,"s":"K","v":11},{"f":9.514,"s":"K","v":11.9},{"f":11.31,"s":"K","v":13.7},{"f":13.45,"s":"K","v":18.3},{"f":16,"s":"K","v":26.7},{"f":19.03,"s":"K","v":49},{"f":22.63,"s":"K","v":80}
 ]},
 "mark":{"type":"line","clip":true},
 "encoding":{
  "x":{"field":"f","type":"quantitative","scale":{"type":"log","domain":[0.5,29.5],"nice":false},"axis":{"orient":"bottom","values":[0.6,0.7,0.8,0.9,1,2,3,4,5,6,7,8,9,10,20],"tickSize":{"condition":{"test":"datum.value==1||datum.value==10","value":-8},"value":-4},"labels":false,"title":null}},
  "y":{"field":"v","type":"quantitative","scale":{"type":"log","domain":[0.5,50],"nice":false},"axis":{"orient":"left","values":[0.6,0.7,0.8,0.9,1,2,3,4,5,6,7,8,9,10,20,30,40],"tickSize":{"condition":{"test":"datum.value==1||datum.value==10","value":-8},"value":-4},"labels":false,"title":null}},
  "color":{"field":"s","type":"nominal","scale":{"domain":["R","B","K","G","N"],"range":["#e0403a","#4e5ea8","#1e1e1e","#8ec63f","#8c8c8c"]},"legend":null}
 }},
 {"data":{"values":[{"f":0.595,"lo":3.4,"hi":8.3,"s":"G"},{"f":1,"lo":2.9,"hi":6.2,"s":"G"},{"f":1,"lo":1.86,"hi":2.9,"s":"B"},{"f":1.682,"lo":2.9,"hi":6.0,"s":"G"},{"f":1.682,"lo":1.7,"hi":2.9,"s":"B"},{"f":2.828,"lo":2.6,"hi":5.8,"s":"B"},{"f":4.757,"lo":2.6,"hi":7.8,"s":"B"},{"f":8,"lo":3.5,"hi":10,"s":"B"},{"f":13.45,"lo":4.0,"hi":7.2,"s":"B"},{"f":22.63,"lo":4.7,"hi":8.5,"s":"B"}]},
 "mark":{"type":"rule","clip":true,"strokeWidth":1.3},
 "encoding":{
  "x":{"field":"f","type":"quantitative","axis":{"orient":"top","values":[0.6,0.7,0.8,0.9,1,2,3,4,5,6,7,8,9,10,20],"tickSize":{"condition":{"test":"datum.value==1||datum.value==10","value":-8},"value":-4},"labels":false,"title":null}},
  "y":{"field":"lo","type":"quantitative","axis":{"orient":"right","values":[0.6,0.7,0.8,0.9,1,2,3,4,5,6,7,8,9,10,20,30,40],"tickSize":{"condition":{"test":"datum.value==1||datum.value==10","value":-8},"value":-4},"labels":false,"title":null}},
  "y2":{"field":"hi"},
  "color":{"field":"s","type":"nominal","legend":null}
 }},
 {"data":{"values":[{"t":"S-Waves,\u00a0\u00a0Station\u00a0\u00a0KRE"}]},"mark":{"type":"text","fontSize":16,"color":"#333"},"encoding":{"x":{"datum":4.35,"type":"quantitative","axis":null},"y":{"datum":31,"type":"quantitative","axis":null},"text":{"field":"t"}}},
 {"data":{"values":[{"t":"t*\u00a0\u00a0=\u00a0\u00a00.012±0.007\u00a0\u00a0s"}]},"mark":{"type":"text","fontSize":15.5,"align":"left","color":"#e0403a"},"encoding":{"x":{"datum":0.57,"type":"quantitative","axis":null},"y":{"datum":1.07,"type":"quantitative","axis":null},"text":{"field":"t"}}},
 {"data":{"values":[{"t":"t*\u00a0\u00a0=\u00a0\u00a00.000±0.007\u00a0\u00a0s"}]},"mark":{"type":"text","fontSize":15.5,"align":"left","color":"#4e5ea8"},"encoding":{"x":{"datum":0.57,"type":"quantitative","axis":null},"y":{"datum":0.765,"type":"quantitative","axis":null},"text":{"field":"t"}}},
 {"data":{"values":[{"t":"t*\u00a0\u00a0=\u00a0\u00a00.041±0.004\u00a0\u00a0s"}]},"mark":{"type":"text","fontSize":15.5,"align":"right","color":"#1e1e1e"},"encoding":{"x":{"datum":24,"type":"quantitative","axis":null},"y":{"datum":1.07,"type":"quantitative","axis":null},"text":{"field":"t"}}},
 {"data":{"values":[{"t":"t*\u00a0\u00a0=\u00a0\u00a00.025±0.005\u00a0\u00a0s"}]},"mark":{"type":"text","fontSize":15.5,"align":"right","color":"#8ec63f"},"encoding":{"x":{"datum":24,"type":"quantitative","axis":null},"y":{"datum":0.765,"type":"quantitative","axis":null},"text":{"field":"t"}}}
]},
{"width":338,"height":241,"layer":[
 {"data":{"values":[
{"f":0.5,"s":"B","v":4.9},{"f":0.595,"s":"B","v":4.2},{"f":0.707,"s":"B","v":3.7},{"f":0.841,"s":"B","v":2.6},{"f":1,"s":"B","v":1.9},{"f":1.189,"s":"B","v":1.6},{"f":1.414,"s":"B","v":1.8},{"f":1.682,"s":"B","v":1.6},{"f":2,"s":"B","v":2.1},{"f":2.378,"s":"B","v":2.1},{"f":2.828,"s":"B","v":2.1},{"f":3.364,"s":"B","v":1.9},{"f":4,"s":"B","v":2.3},{"f":4.757,"s":"B","v":2.35},{"f":5.657,"s":"B","v":2.1},{"f":6.727,"s":"B","v":2.35},{"f":8,"s":"B","v":2.5},{"f":9.514,"s":"B","v":2.9},{"f":11.31,"s":"B","v":2.7},{"f":13.45,"s":"B","v":3.1},{"f":16,"s":"B","v":3.1},{"f":19.03,"s":"B","v":3.6},{"f":22.63,"s":"B","v":3.4},
{"f":0.5,"s":"G","v":6.4},{"f":0.595,"s":"G","v":4.9},{"f":0.707,"s":"G","v":4.5},{"f":0.841,"s":"G","v":4.1},{"f":1,"s":"G","v":2.9},{"f":1.189,"s":"G","v":2.4},{"f":1.414,"s":"G","v":2.7},{"f":1.682,"s":"G","v":2.5},{"f":2,"s":"G","v":3.1},{"f":2.378,"s":"G","v":3.2},{"f":2.828,"s":"G","v":3.2},{"f":3.364,"s":"G","v":2.7},{"f":4,"s":"G","v":2.6},{"f":4.757,"s":"G","v":3.0},{"f":5.657,"s":"G","v":2.5},{"f":6.727,"s":"G","v":2.85},{"f":8,"s":"G","v":2.85},{"f":9.514,"s":"G","v":3.1},{"f":11.31,"s":"G","v":3.4},{"f":13.45,"s":"G","v":4.1},{"f":16,"s":"G","v":5.6},{"f":19.03,"s":"G","v":9.7},{"f":22.63,"s":"G","v":20},
{"f":0.5,"s":"R","v":7.1},{"f":0.595,"s":"R","v":5.9},{"f":0.707,"s":"R","v":5.4},{"f":0.841,"s":"R","v":4.5},{"f":1,"s":"R","v":3.0},{"f":1.189,"s":"R","v":2.35},{"f":1.414,"s":"R","v":2.5},{"f":1.682,"s":"R","v":2.3},{"f":2,"s":"R","v":2.6},{"f":2.378,"s":"R","v":2.7},{"f":2.828,"s":"R","v":2.85},{"f":3.364,"s":"R","v":2.7},{"f":4,"s":"R","v":2.7},{"f":4.757,"s":"R","v":3.4},{"f":5.657,"s":"R","v":3.2},{"f":6.727,"s":"R","v":3.7},{"f":8,"s":"R","v":4.5},{"f":9.514,"s":"R","v":4.7},{"f":11.31,"s":"R","v":4.7},{"f":13.45,"s":"R","v":6.9},{"f":16,"s":"R","v":8.5},{"f":19.03,"s":"R","v":11.1},{"f":22.63,"s":"R","v":15},
{"f":0.5,"s":"K","v":7.1},{"f":0.595,"s":"K","v":5.4},{"f":0.707,"s":"K","v":5.4},{"f":0.841,"s":"K","v":4.6},{"f":1,"s":"K","v":3.5},{"f":1.189,"s":"K","v":2.85},{"f":1.414,"s":"K","v":3.4},{"f":1.682,"s":"K","v":3.1},{"f":2,"s":"K","v":3.6},{"f":2.378,"s":"K","v":3.5},{"f":2.828,"s":"K","v":3.6},{"f":3.364,"s":"K","v":3.2},{"f":4,"s":"K","v":2.8},{"f":4.757,"s":"K","v":3.5},{"f":5.657,"s":"K","v":3.4},{"f":6.727,"s":"K","v":3.9},{"f":8,"s":"K","v":3.9},{"f":9.514,"s":"K","v":4.2},{"f":11.31,"s":"K","v":4.6},{"f":13.45,"s":"K","v":7.5},{"f":16,"s":"K","v":12.4},{"f":19.03,"s":"K","v":22.6},{"f":22.63,"s":"K","v":48.5}
 ]},
 "mark":{"type":"line","clip":true},
 "encoding":{
  "x":{"field":"f","type":"quantitative","scale":{"type":"log","domain":[0.5,29.5],"nice":false},"axis":{"orient":"bottom","values":[0.6,0.7,0.8,0.9,1,2,3,4,5,6,7,8,9,10,20],"tickSize":{"condition":{"test":"datum.value==1||datum.value==10","value":-8},"value":-4},"labelExpr":"datum.value==1?'1.':datum.value==10?'10.':''","labelBaseline":"middle","labelPadding":22,"title":"Hz","titlePadding":4}},
  "y":{"field":"v","type":"quantitative","scale":{"type":"log","domain":[0.5,50],"nice":false},"axis":{"orient":"left","values":[0.6,0.7,0.8,0.9,1,2,3,4,5,6,7,8,9,10,20,30,40],"tickSize":{"condition":{"test":"datum.value==1||datum.value==10","value":-8},"value":-4},"labels":false,"title":null}},
  "color":{"field":"s","type":"nominal","scale":{"domain":["R","B","K","G","N"],"range":["#e0403a","#4e5ea8","#1e1e1e","#8ec63f","#8c8c8c"]},"legend":null}
 }},
 {"data":{"values":[{"f":0.595,"lo":4.9,"hi":7.7,"s":"R"},{"f":0.595,"lo":3.2,"hi":4.9,"s":"G"},{"f":1,"lo":3.0,"hi":4.5,"s":"K"},{"f":1,"lo":1.4,"hi":3.0,"s":"B"},{"f":1.682,"lo":3.1,"hi":4.5,"s":"K"},{"f":1.682,"lo":1.1,"hi":3.1,"s":"B"},{"f":2.828,"lo":2.7,"hi":4.3,"s":"K"},{"f":2.828,"lo":1.9,"hi":2.7,"s":"B"},{"f":4.757,"lo":2.7,"hi":4.1,"s":"R"},{"f":4.757,"lo":1.8,"hi":2.7,"s":"B"},{"f":8,"lo":3.9,"hi":4.7,"s":"R"},{"f":8,"lo":1.8,"hi":3.9,"s":"B"},{"f":13.45,"lo":3.1,"hi":7.6,"s":"R"},{"f":13.45,"lo":2.3,"hi":3.1,"s":"B"},{"f":22.63,"lo":2.5,"hi":4.5,"s":"B"}]},
 "mark":{"type":"rule","clip":true,"strokeWidth":1.3},
 "encoding":{
  "x":{"field":"f","type":"quantitative","axis":{"orient":"top","values":[0.6,0.7,0.8,0.9,1,2,3,4,5,6,7,8,9,10,20],"tickSize":{"condition":{"test":"datum.value==1||datum.value==10","value":-8},"value":-4},"labels":false,"title":null}},
  "y":{"field":"lo","type":"quantitative","axis":{"orient":"right","values":[0.6,0.7,0.8,0.9,1,2,3,4,5,6,7,8,9,10,20,30,40],"tickSize":{"condition":{"test":"datum.value==1||datum.value==10","value":-8},"value":-4},"labelExpr":"datum.value==1?'1':datum.value==10?'10':''","labelAlign":"center","labelBaseline":"middle","labelPadding":28,"title":"Rescaled\u00a0Site\u00a0Response","titlePadding":10}},
  "y2":{"field":"hi"},
  "color":{"field":"s","type":"nominal","legend":null}
 }},
 {"data":{"values":[{"t":"S-Waves,\u00a0\u00a0Station\u00a0\u00a0HOT"}]},"mark":{"type":"text","fontSize":16,"color":"#333"},"encoding":{"x":{"datum":4.35,"type":"quantitative","axis":null},"y":{"datum":31,"type":"quantitative","axis":null},"text":{"field":"t"}}},
 {"data":{"values":[{"t":"t*\u00a0\u00a0=\u00a0\u00a00.015±0.005\u00a0\u00a0s"}]},"mark":{"type":"text","fontSize":15.5,"align":"left","color":"#e0403a"},"encoding":{"x":{"datum":0.57,"type":"quantitative","axis":null},"y":{"datum":1.07,"type":"quantitative","axis":null},"text":{"field":"t"}}},
 {"data":{"values":[{"t":"t*\u00a0\u00a0=\u00a0\u00a00.000±0.005\u00a0\u00a0s"}]},"mark":{"type":"text","fontSize":15.5,"align":"left","color":"#4e5ea8"},"encoding":{"x":{"datum":0.57,"type":"quantitative","axis":null},"y":{"datum":0.765,"type":"quantitative","axis":null},"text":{"field":"t"}}},
 {"data":{"values":[{"t":"t*\u00a0\u00a0=\u00a0\u00a00.037±0.003\u00a0\u00a0s"}]},"mark":{"type":"text","fontSize":15.5,"align":"right","color":"#1e1e1e"},"encoding":{"x":{"datum":24,"type":"quantitative","axis":null},"y":{"datum":1.07,"type":"quantitative","axis":null},"text":{"field":"t"}}},
 {"data":{"values":[{"t":"t*\u00a0\u00a0=\u00a0\u00a00.020±0.005\u00a0\u00a0s"}]},"mark":{"type":"text","fontSize":15.5,"align":"right","color":"#8ec63f"},"encoding":{"x":{"datum":24,"type":"quantitative","axis":null},"y":{"datum":0.765,"type":"quantitative","axis":null},"text":{"field":"t"}}}
]},
{"width":338,"height":241,"view":{"stroke":null},"data":{"values":[]},"mark":{"type":"point","opacity":0},"encoding":{}},
{"width":338,"height":241,"layer":[
 {"data":{"values":[
{"f":0.5,"s":"B","v":13.7},{"f":0.595,"s":"B","v":11.1},{"f":0.707,"s":"B","v":10.2},{"f":0.841,"s":"B","v":9.6},{"f":1,"s":"B","v":6.4},{"f":1.189,"s":"B","v":6.2},{"f":1.414,"s":"B","v":5.6},{"f":1.682,"s":"B","v":6.3},{"f":2,"s":"B","v":5.3},{"f":2.378,"s":"B","v":5.3},{"f":2.828,"s":"B","v":7.1},{"f":3.364,"s":"B","v":7.1},{"f":4,"s":"B","v":7.2},{"f":4.757,"s":"B","v":7.0},{"f":5.657,"s":"B","v":7.4},{"f":6.727,"s":"B","v":8.8},{"f":8,"s":"B","v":8.4},{"f":9.514,"s":"B","v":7.9},{"f":11.31,"s":"B","v":6.8},{"f":13.45,"s":"B","v":8.7},{"f":16,"s":"B","v":8.4},{"f":19.03,"s":"B","v":11.1},{"f":22.63,"s":"B","v":11.2},
{"f":0.5,"s":"G","v":13.1},{"f":0.595,"s":"G","v":10},{"f":0.707,"s":"G","v":9.8},{"f":0.841,"s":"G","v":8.8},{"f":1,"s":"G","v":6.5},{"f":1.189,"s":"G","v":6.5},{"f":1.414,"s":"G","v":6.8},{"f":1.682,"s":"G","v":7.4},{"f":2,"s":"G","v":7.3},{"f":2.378,"s":"G","v":7.8},{"f":2.828,"s":"G","v":8.1},{"f":3.364,"s":"G","v":7.3},{"f":4,"s":"G","v":7.6},{"f":4.757,"s":"G","v":7.4},{"f":5.657,"s":"G","v":7.1},{"f":6.727,"s":"G","v":8.4},{"f":8,"s":"G","v":8.7},{"f":9.514,"s":"G","v":10},{"f":11.31,"s":"G","v":11.8},{"f":13.45,"s":"G","v":17.2},{"f":16,"s":"G","v":21.7},{"f":19.03,"s":"G","v":31.7},{"f":22.63,"s":"G","v":44},
{"f":0.5,"s":"R","v":12.3},{"f":0.595,"s":"R","v":10},{"f":0.707,"s":"R","v":10},{"f":0.841,"s":"R","v":10.2},{"f":1,"s":"R","v":7.3},{"f":1.189,"s":"R","v":6.8},{"f":1.414,"s":"R","v":6.8},{"f":1.682,"s":"R","v":7.7},{"f":2,"s":"R","v":6.5},{"f":2.378,"s":"R","v":6.2},{"f":2.828,"s":"R","v":7.3},{"f":3.364,"s":"R","v":7.3},{"f":4,"s":"R","v":7.3},{"f":4.757,"s":"R","v":7.4},{"f":5.657,"s":"R","v":8.2},{"f":6.727,"s":"R","v":8.7},{"f":8,"s":"R","v":8.7},{"f":9.514,"s":"R","v":9.3},{"f":11.31,"s":"R","v":10.9},{"f":13.45,"s":"R","v":15.6},{"f":16,"s":"R","v":16.9},{"f":19.03,"s":"R","v":29.8},{"f":22.63,"s":"R","v":37},
{"f":0.5,"s":"K","v":12.6},{"f":0.595,"s":"K","v":8.4},{"f":0.707,"s":"K","v":8.7},{"f":0.841,"s":"K","v":10},{"f":1,"s":"K","v":7.0},{"f":1.189,"s":"K","v":6.8},{"f":1.414,"s":"K","v":7.0},{"f":1.682,"s":"K","v":7.4},{"f":2,"s":"K","v":7.3},{"f":2.378,"s":"K","v":7.6},{"f":2.828,"s":"K","v":7.6},{"f":3.364,"s":"K","v":7.1},{"f":4,"s":"K","v":7.3},{"f":4.757,"s":"K","v":7.0},{"f":5.657,"s":"K","v":6.8},{"f":6.727,"s":"K","v":7.9},{"f":8,"s":"K","v":8.3},{"f":9.514,"s":"K","v":9.6},{"f":11.31,"s":"K","v":13.1},{"f":13.45,"s":"K","v":20.4},{"f":16,"s":"K","v":29},{"f":19.03,"s":"K","v":55}
 ]},
 "mark":{"type":"line","clip":true},
 "encoding":{
  "x":{"field":"f","type":"quantitative","scale":{"type":"log","domain":[0.5,29.5],"nice":false},"axis":{"orient":"bottom","values":[0.6,0.7,0.8,0.9,1,2,3,4,5,6,7,8,9,10,20],"tickSize":{"condition":{"test":"datum.value==1||datum.value==10","value":-8},"value":-4},"labelExpr":"datum.value==1?'1.':datum.value==10?'10.':''","labelBaseline":"middle","labelPadding":24,"title":"Hz","titlePadding":4}},
  "y":{"field":"v","type":"quantitative","scale":{"type":"log","domain":[0.5,50],"nice":false},"axis":{"orient":"left","values":[0.6,0.7,0.8,0.9,1,2,3,4,5,6,7,8,9,10,20,30,40],"tickSize":{"condition":{"test":"datum.value==1||datum.value==10","value":-8},"value":-4},"labelExpr":"datum.value==1?'1':datum.value==10?'10':''","labelAlign":"center","labelBaseline":"middle","labelPadding":25,"title":"Rescaled\u00a0Site\u00a0Response","titlePadding":10}},
  "color":{"field":"s","type":"nominal","scale":{"domain":["R","B","K","G","N"],"range":["#e0403a","#4e5ea8","#1e1e1e","#8ec63f","#8c8c8c"]},"legend":null}
 }},
 {"data":{"values":[{"f":0.595,"lo":9.5,"hi":14.6,"s":"B"},{"f":0.595,"lo":6.5,"hi":9.5,"s":"K"},{"f":1,"lo":4.9,"hi":9.6,"s":"G"},{"f":1.682,"lo":7,"hi":9.6,"s":"G"},{"f":1.682,"lo":4.9,"hi":7,"s":"B"},{"f":2.828,"lo":5.6,"hi":10,"s":"G"},{"f":4.757,"lo":5.6,"hi":8.7,"s":"N"},{"f":8,"lo":7.1,"hi":9.6,"s":"B"},{"f":13.45,"lo":7.9,"hi":9.0,"s":"B"},{"f":22.63,"lo":10.6,"hi":11.9,"s":"B"}]},
 "mark":{"type":"rule","clip":true,"strokeWidth":1.3},
 "encoding":{
  "x":{"field":"f","type":"quantitative","axis":{"orient":"top","values":[0.6,0.7,0.8,0.9,1,2,3,4,5,6,7,8,9,10,20],"tickSize":{"condition":{"test":"datum.value==1||datum.value==10","value":-8},"value":-4},"labels":false,"title":null}},
  "y":{"field":"lo","type":"quantitative","axis":{"orient":"right","values":[0.6,0.7,0.8,0.9,1,2,3,4,5,6,7,8,9,10,20,30,40],"tickSize":{"condition":{"test":"datum.value==1||datum.value==10","value":-8},"value":-4},"labels":false,"title":null}},
  "y2":{"field":"hi"},
  "color":{"field":"s","type":"nominal","legend":null}
 }},
 {"data":{"values":[{"t":"S-Waves,\u00a0\u00a0Station\u00a0\u00a0SUI"}]},"mark":{"type":"text","fontSize":16,"color":"#333"},"encoding":{"x":{"datum":4.35,"type":"quantitative","axis":null},"y":{"datum":31,"type":"quantitative","axis":null},"text":{"field":"t"}}},
 {"data":{"values":[{"t":"t*\u00a0\u00a0=\u00a0\u00a00.027±0.005\u00a0\u00a0s"}]},"mark":{"type":"text","fontSize":15.5,"align":"left","color":"#e0403a"},"encoding":{"x":{"datum":0.57,"type":"quantitative","axis":null},"y":{"datum":1.07,"type":"quantitative","axis":null},"text":{"field":"t"}}},
 {"data":{"values":[{"t":"t*\u00a0\u00a0=\u00a0\u00a00.013±0.007\u00a0\u00a0s"}]},"mark":{"type":"text","fontSize":15.5,"align":"left","color":"#4e5ea8"},"encoding":{"x":{"datum":0.57,"type":"quantitative","axis":null},"y":{"datum":0.765,"type":"quantitative","axis":null},"text":{"field":"t"}}},
 {"data":{"values":[{"t":"t*\u00a0\u00a0=\u00a0\u00a00.051±0.001\u00a0\u00a0s"}]},"mark":{"type":"text","fontSize":15.5,"align":"right","color":"#1e1e1e"},"encoding":{"x":{"datum":24,"type":"quantitative","axis":null},"y":{"datum":1.07,"type":"quantitative","axis":null},"text":{"field":"t"}}},
 {"data":{"values":[{"t":"t*\u00a0\u00a0=\u00a0\u00a00.035±0.005\u00a0\u00a0s"}]},"mark":{"type":"text","fontSize":15.5,"align":"right","color":"#8ec63f"},"encoding":{"x":{"datum":24,"type":"quantitative","axis":null},"y":{"datum":0.676,"type":"quantitative","axis":null},"text":{"field":"t"}}}
]}
]
}
